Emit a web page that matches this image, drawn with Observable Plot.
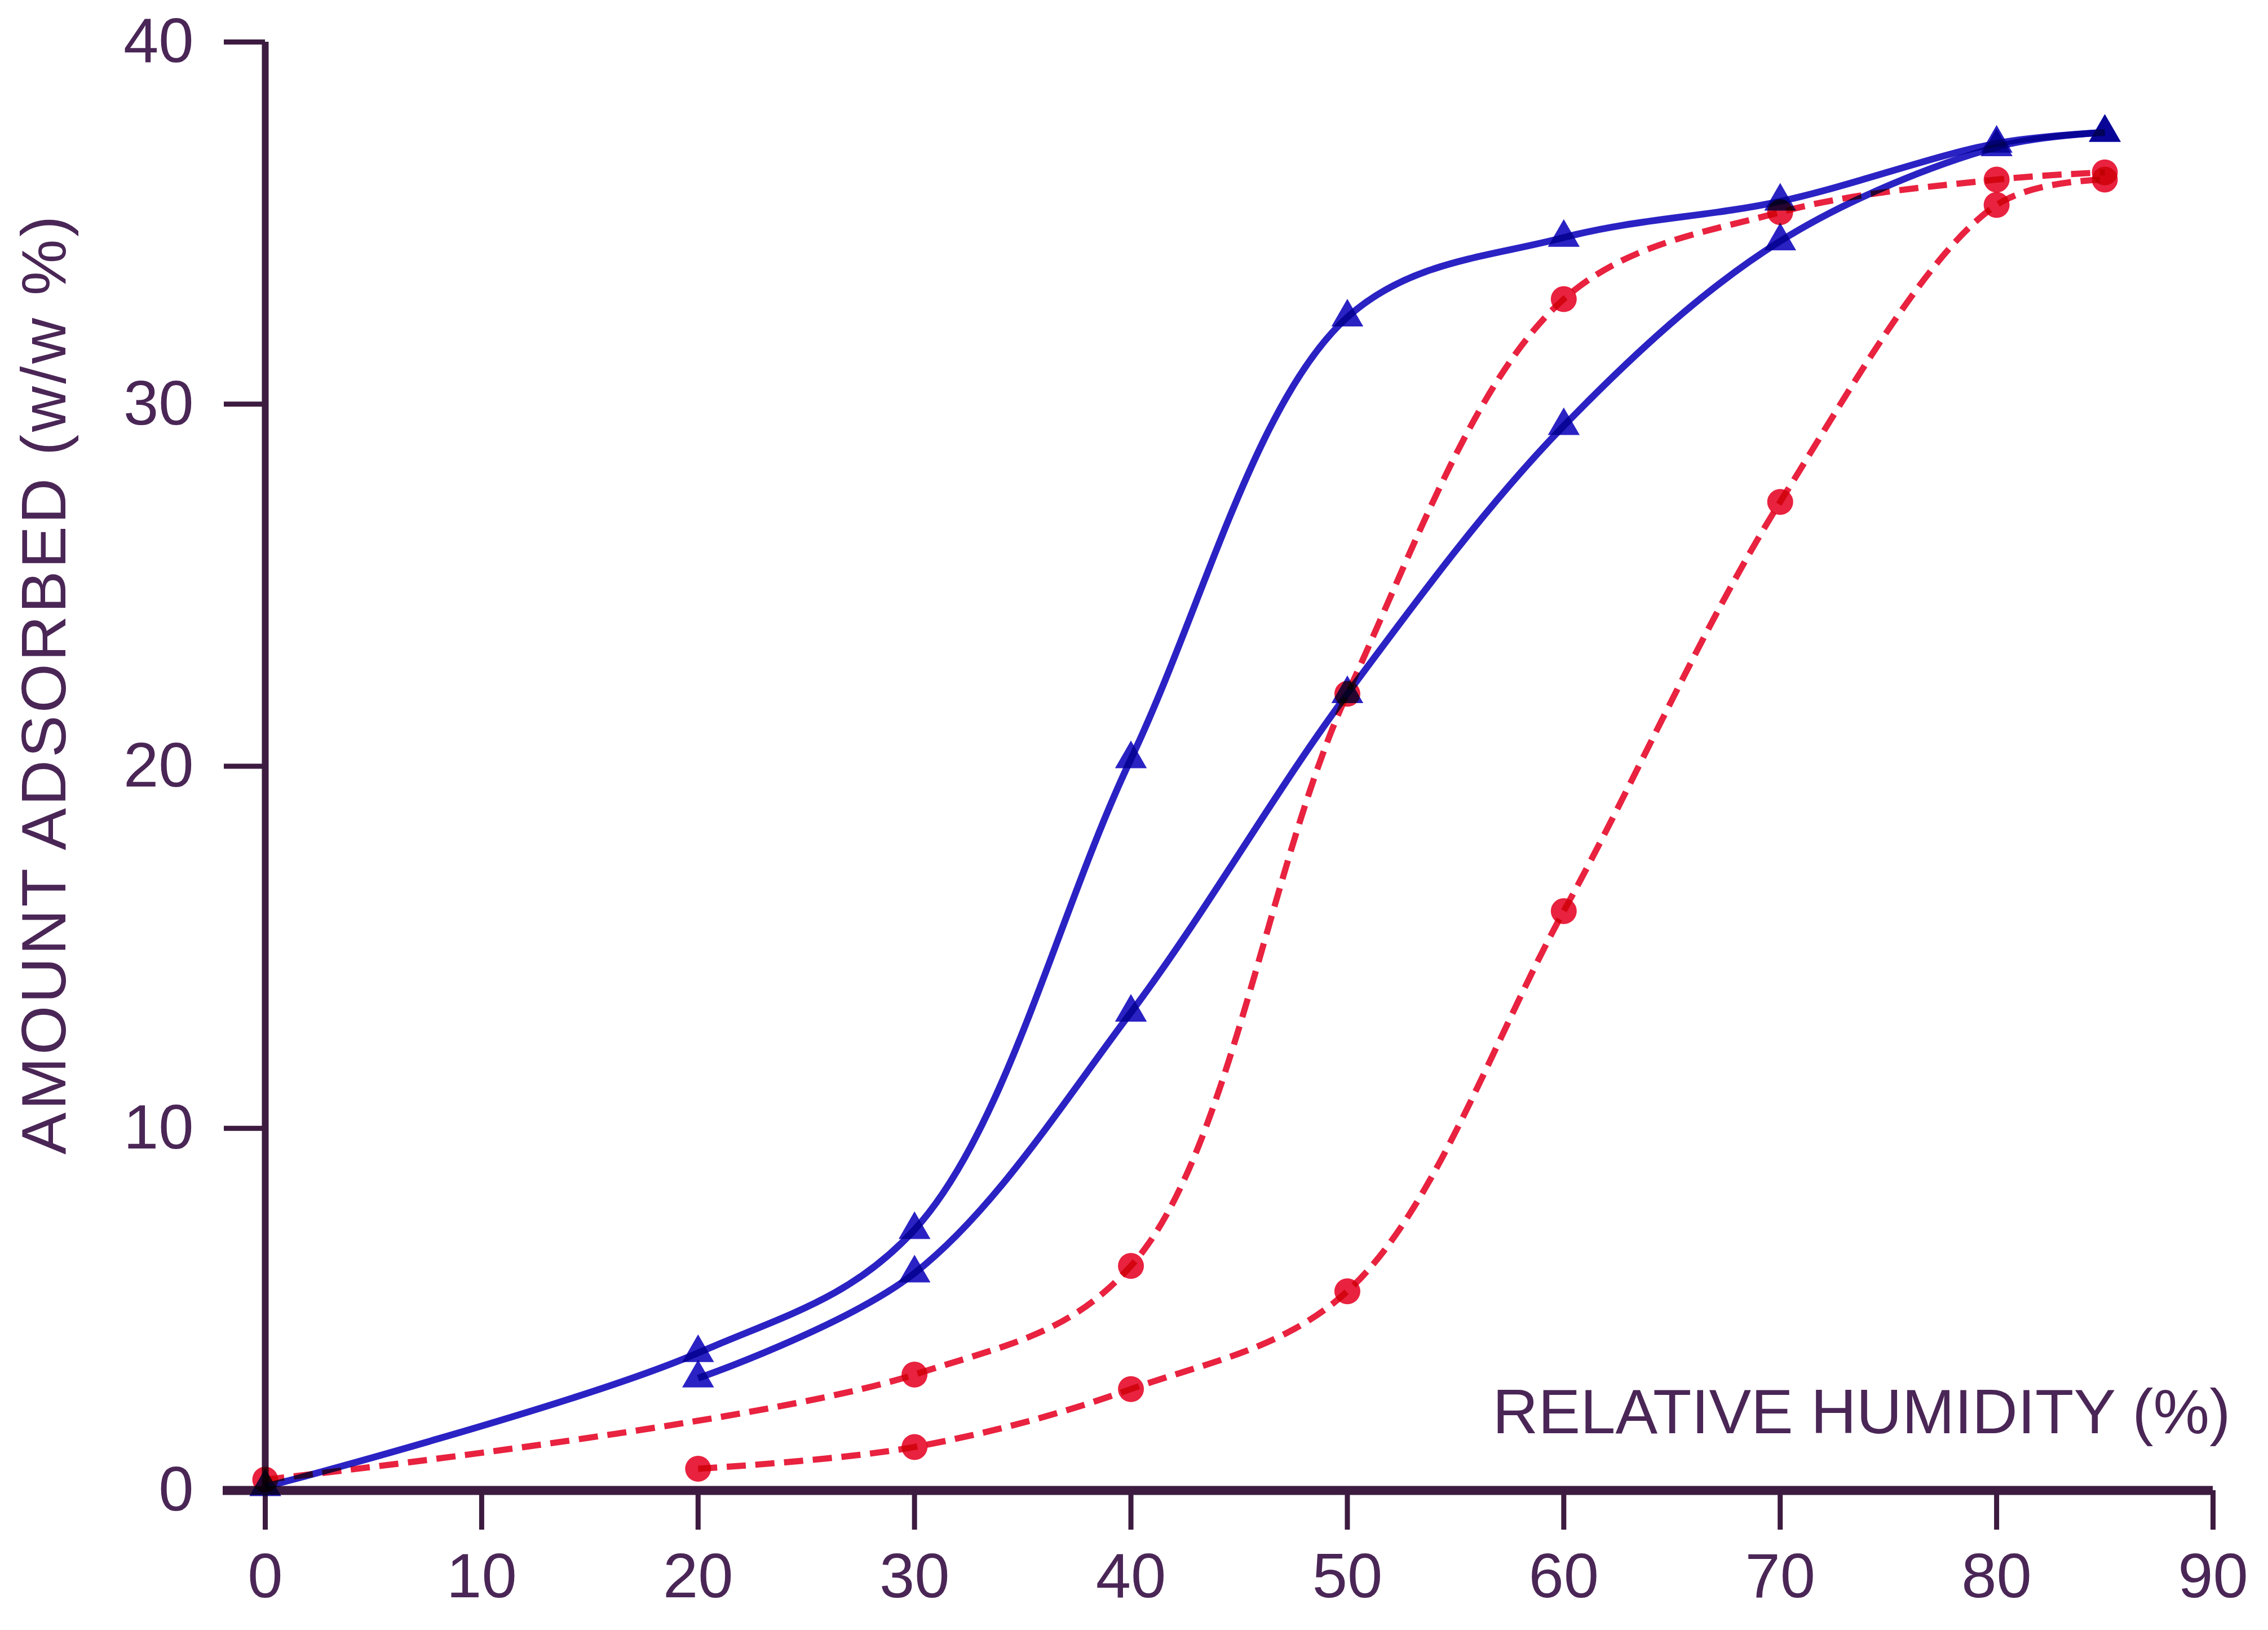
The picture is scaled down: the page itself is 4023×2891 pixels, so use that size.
<!DOCTYPE html>
<html>
<head>
<meta charset="utf-8">
<script src="https://cdn.jsdelivr.net/npm/d3@7"></script>
<script src="https://cdn.jsdelivr.net/npm/@observablehq/plot@0.6"></script>
<style>
  html, body { margin: 0; padding: 0; background: #ffffff; }
  #chart svg { display: block; }
</style>
</head>
<body>
<div id="chart"></div>
<script>
// ---- data ----
const rhBlueDes  = [0, 20, 30, 40, 50, 60, 70, 80, 85];
const amtBlueDes = [0.1, 3.8, 7.2, 20.2, 32.4, 34.6, 35.6, 37.2, 37.5];

const rhBlueAds  = [20, 30, 40, 50, 60, 70, 80, 85];
const amtBlueAds = [3.1, 6.0, 13.2, 22.0, 29.4, 34.5, 37.1, 37.5];

const rhRedDes   = [0, 30, 40, 50, 60, 70, 80, 85];
const amtRedDes  = [0.3, 3.2, 6.2, 22.0, 32.9, 35.3, 36.2, 36.4];

const rhRedAds   = [20, 30, 40, 50, 60, 70, 80, 85];
const amtRedAds  = [0.6, 1.2, 2.8, 5.5, 16.0, 27.3, 35.5, 36.2];

const xTicks = [0, 10, 20, 30, 40, 50, 60, 70, 80, 90];
const yTicks = [0, 10, 20, 30, 40];

const xLabel = "RELATIVE HUMIDITY (%)";
const yLabel = "AMOUNT ADSORBED (w/w %)";

// ---- build tables ----
const toRows = (xs, ys) => xs.map((x, i) => ({x, y: ys[i]}));
const blueDes = toRows(rhBlueDes, amtBlueDes);
const blueAds = toRows(rhBlueAds, amtBlueAds);
const redDes  = toRows(rhRedDes, amtRedDes);
const redAds  = toRows(rhRedAds, amtRedAds);

const BLUE = "#2b22c4";
const RED = "#e8223f";
const INK = "#4a2656";
const AXIS = "#3d1b40";
const FONT = "'Liberation Sans', Arial, Helvetica, sans-serif";

const lineOpts = (color, dashed) => ({
  x: "x", y: "y",
  curve: "catmull-rom",
  stroke: color,
  strokeWidth: dashed ? 11 : 12,
  strokeDasharray: dashed ? "34,17" : null,
  strokeLinecap: "butt",
  mixBlendMode: "multiply"
});

const chart = Plot.plot({
  width: 4023,
  height: 2891,
  marginLeft: 470,
  marginRight: 98,
  marginTop: 74,
  marginBottom: 248,
  style: { fontFamily: FONT, background: "#ffffff", overflow: "visible" },
  x: { domain: [d3.min(xTicks), d3.max(xTicks)] },
  y: { domain: [d3.min(yTicks), d3.max(yTicks)] },
  marks: [
    // axes
    Plot.axisX({
      ticks: xTicks, tickSize: 70, tickPadding: 40, fontSize: 112,
      tickFormat: d => String(d), stroke: AXIS, fill: INK, strokeWidth: 9, label: null
    }),
    Plot.axisY({
      ticks: yTicks, tickSize: 73, tickPadding: 54, fontSize: 112,
      tickFormat: d => String(d), stroke: AXIS, fill: INK, strokeWidth: 9, label: null
    }),
    Plot.ruleX([d3.min(xTicks)], { stroke: AXIS, strokeWidth: 12 }),
    Plot.ruleY([d3.min(yTicks)], { stroke: AXIS, strokeWidth: 16, insetLeft: -75 }),

    // curves
    Plot.line(blueDes, lineOpts(BLUE, false)),
    Plot.line(blueAds, lineOpts(BLUE, false)),
    Plot.line(redDes, lineOpts(RED, true)),
    Plot.line(redAds, lineOpts(RED, true)),

    // markers
    Plot.dot(blueDes, { x: "x", y: "y", symbol: "triangle", r: 21, fill: BLUE, mixBlendMode: "multiply" }),
    Plot.dot(blueAds, { x: "x", y: "y", symbol: "triangle", r: 21, fill: BLUE, mixBlendMode: "multiply" }),
    Plot.dot(redDes,  { x: "x", y: "y", symbol: "circle", r: 23, fill: RED, mixBlendMode: "multiply" }),
    Plot.dot(redAds,  { x: "x", y: "y", symbol: "circle", r: 23, fill: RED, mixBlendMode: "multiply" }),

    // axis titles
    Plot.text([xLabel], {
      frameAnchor: "bottom-right", textAnchor: "end", lineAnchor: "bottom",
      dx: 31, dy: -102, fontSize: 112, fill: INK
    }),
    Plot.text([yLabel], {
      frameAnchor: "left", textAnchor: "middle", lineAnchor: "middle", rotate: -90,
      dx: -390, dy: -146, fontSize: 112, fill: INK
    })
  ]
});

// widen the letter spacing of the vertical axis title, as in the reference
d3.select(chart).selectAll("text")
  .filter(function () { return this.textContent === yLabel; })
  .attr("letter-spacing", 4.5);

document.getElementById("chart").appendChild(chart);
</script>
</body>
</html>
